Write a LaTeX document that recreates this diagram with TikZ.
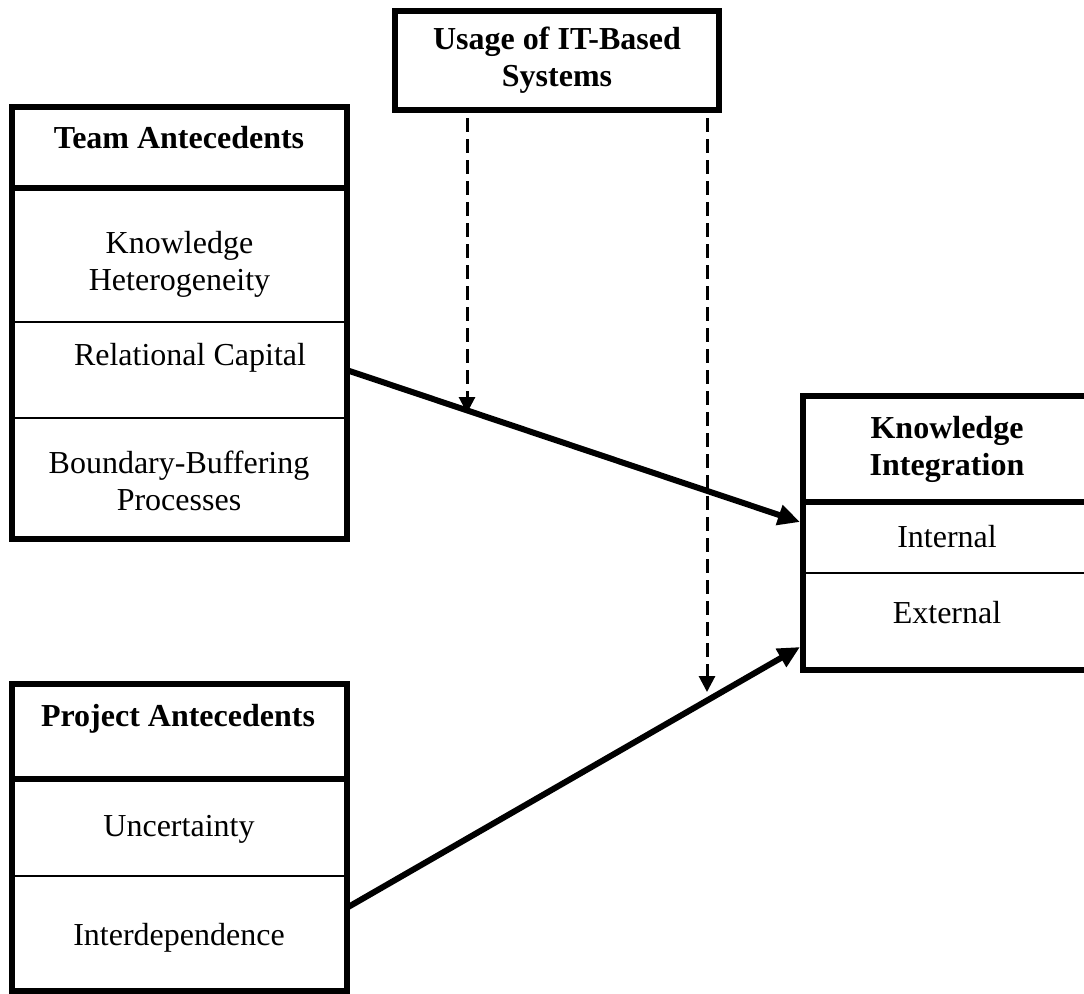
\documentclass[tikz,border=0pt]{standalone}
\usepackage{fontspec}
\setmainfont{Liberation Serif}
\usetikzlibrary{arrows.meta}
\begin{document}
\begin{tikzpicture}[x=1pt,y=-1pt,
  box/.style={draw, line width=6pt, inner sep=0pt, outer sep=0pt, rectangle},
  heavyrule/.style={line width=6pt},
  lightrule/.style={line width=2pt},
  lbl/.style={anchor=base, inner sep=0pt, align=center, font=\fontsize{32}{37}\selectfont},
  hd/.style={lbl, font=\fontsize{32}{37}\selectfont\bfseries},
  link/.style={line width=6pt, -{Triangle[length=22pt,width=20pt]}},
  moderator/.style={line width=3pt, dash pattern=on 14pt off 7pt, -{Triangle[length=16pt,width=16pt]}}]
\useasboundingbox (0,0) rectangle (1084,993);
\clip (0,0) rectangle (1084,993);

% moderator box (two-line labels are placed by their last baseline)
\node[box, minimum width=324pt, minimum height=99pt] (usage) at (557,60.5) {};
\node[hd] (usageT) at (557,86) {Usage of IT-Based\\Systems};

% team antecedents
\node[box, minimum width=335pt, minimum height=432pt] (team) at (179,322.5) {};
\draw[heavyrule] (11.5,187.5) -- (346.5,187.5);
\draw[lightrule] (11.5,322) -- (346.5,322);
\draw[lightrule] (11.5,418) -- (346.5,418);
\node[hd] (teamT) at (179,148) {Team Antecedents};
\node[lbl] (kh) at (179.5,290) {Knowledge\\Heterogeneity};
\node[lbl] (rc) at (190,365) {Relational Capital};
\node[lbl] (bb) at (179,510) {Boundary-Buffering\\Processes};

% knowledge integration
\node[box, minimum width=287pt, minimum height=274pt] (ki) at (946.5,532.5) {};
\draw[heavyrule] (803,501.5) -- (1090,501.5);
\draw[lightrule] (803,573) -- (1090,573);
\node[hd] (kiT) at (947,475) {Knowledge\\Integration};
\node[lbl] (kin) at (947,547) {Internal};
\node[lbl] (kex) at (947,623) {External};

% project antecedents
\node[box, minimum width=335pt, minimum height=307.5pt] (proj) at (179,837.25) {};
\draw[heavyrule] (11.5,778.5) -- (346.5,778.5);
\draw[lightrule] (11.5,876) -- (346.5,876);
\node[hd] (projT) at (178,726) {Project Antecedents};
\node[lbl] (unc) at (179,836) {Uncertainty};
\node[lbl] (intd) at (179,945) {Interdependence};

% connector ends
\coordinate (rcOut) at (346.5,370);
\coordinate (idOut) at (346.5,908);
\coordinate (kiA) at (800,522);
\coordinate (kiB) at (800,647);
\coordinate (modA) at (467,118);
\coordinate (modB) at (707,118);
\coordinate (hitA) at (467,413);
\coordinate (hitB) at (707,692);

% main effects
\draw[link] (rcOut) -- (kiA);
\draw[link] (idOut) -- (kiB);

% moderating effects
\draw[moderator] (modA) -- (hitA);
\draw[moderator] (modB) -- (hitB);
\end{tikzpicture}
\end{document}
